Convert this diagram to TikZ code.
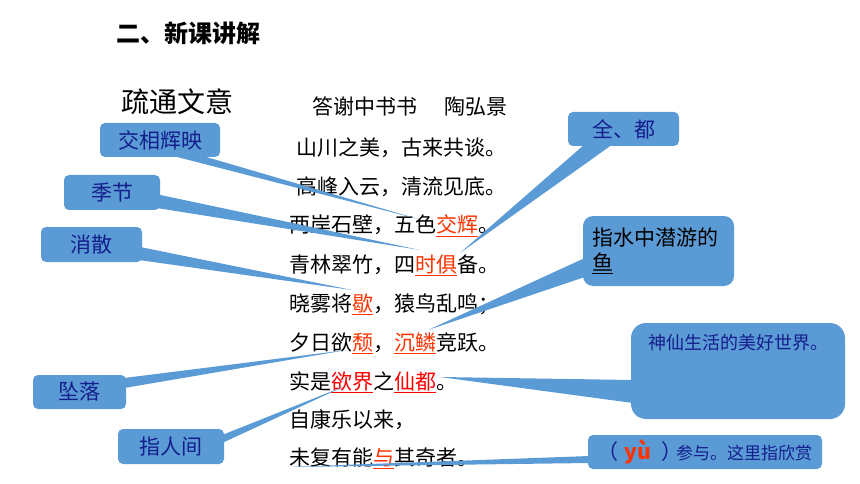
\documentclass[tikz,border=0pt]{standalone}
\usepackage{fontspec}
\setmainfont{Noto Sans CJK SC}
\usetikzlibrary{calc}
\definecolor{callblue}{RGB}{91,155,213}
\definecolor{navy}{RGB}{20,30,140}
\definecolor{hlred}{RGB}{255,51,0}
\newcommand{\hl}[1]{\textcolor{hlred}{\underline{#1}}}
\newcommand{\hr}[1]{\textcolor{red}{\underline{#1}}}

\begin{document}
\begin{tikzpicture}[x=1pt,y=-1pt,
    line/.style={anchor=base west,inner sep=0,font=\fontsize{21}{24}\selectfont},
    box/.style={fill=callblue,rounded corners=5pt,inner sep=0,text=navy,font=\fontsize{21}{25}\selectfont},
    wedge/.style={fill=callblue}]
    \useasboundingbox (0,0) rectangle (860,484);
    % headings
    \node[anchor=west,inner sep=0,font=\fontsize{24}{28}\selectfont\bfseries] (tt) at (116,33) {二、新课讲解};
    \node[anchor=west,inner sep=0,font=\fontsize{28}{30}\selectfont] (st) at (121,102) {疏通文意};
    % the text
    \node[line] (t0) at (312,115) {答谢中书书\hspace{27pt}陶弘景};
    \node[line] (l1) at (296,156) {山川之美，古来共谈。};
    \node[line] (l2) at (296,194) {高峰入云，清流见底。};
    \node[line] (l3) at (289,233) {两岸石壁，五色\hl{交辉}。};
    \node[line] (l4) at (289,272) {青林翠竹，四\hl{时俱}备。};
    \node[line] (l5) at (289,311) {晓雾将\hl{歇}，猿鸟乱鸣；};
    \node[line] (l6) at (289,350) {夕日欲\hl{颓}，\hl{沉鳞}竞跃。};
    \node[line] (l7) at (289,389) {实是\hr{欲界}之\hr{仙都}。};
    \node[line] (l8) at (289,427) {自康乐以来，};
    \node[line] (l9) at (289,465) {未复有能\hl{与}其奇者。};
    % pointer tips
    \coordinate (tjx) at (418,219);
    \coordinate (tjj) at (420,250);
    \coordinate (txs) at (352,290);
    \coordinate (tzl) at (347,350);
    \coordinate (tzr) at (345,386);
    \coordinate (tqd) at (460,253);
    \coordinate (tys) at (428,330);
    \coordinate (tsx) at (440,377);
    \coordinate (tyu) at (287,467);
    % callouts
    \node[box,minimum width=120pt,minimum height=34pt] (jx) at (160,140) {交相辉映};
    \node[box,minimum width=96pt,minimum height=35pt] (jj) at (112,192.5) {季节};
    \node[box,minimum width=101pt,minimum height=35pt] (xs) at (91.5,244.5) {消散};
    \node[box,minimum width=93pt,minimum height=34pt] (zl) at (79.5,392) {坠落};
    \node[box,minimum width=106pt,minimum height=35pt] (zr) at (171,446.5) {指人间};
    \node[box,minimum width=111pt,minimum height=34pt] (qd) at (623.5,129) {全、都};
    \node[box,text=black,rounded corners=10pt,minimum width=151pt,minimum height=70pt,text width=133pt,align=left] (ys) at (658.5,251) {指水中潜游的\\\underline{鱼}};
    \node[box,rounded corners=15pt,minimum width=214pt,font=\fontsize{18}{20}\selectfont,text height=26.5pt,text depth=69.5pt] (sx) at (738,371) {神仙生活的美好世界。};
    \node[box,minimum width=234pt,minimum height=34pt] (yu) at (705,452) {（\hspace{6pt}\textcolor{hlred}{\bfseries yù}\hspace{10pt}）\hspace{-6pt}{\fontsize{17}{20}\selectfont 参与。这里指欣赏}};
    % pointers
    \fill[wedge] ($(jx.south east)+(-50,-2)$) -- (tjx) -- ($(jx.south east)+(-20,-2)$) -- cycle;
    \fill[wedge] ($(jj.east)+(-2,2)$) -- (tjj) -- ($(jj.south east)+(-2,-2)$) -- cycle;
    \fill[wedge] ($(xs.east)+(-2,2.5)$) -- (txs) -- ($(xs.south east)+(-2,-2)$) -- cycle;
    \fill[wedge] ($(zl.east)+(-2,-14)$) -- (tzl) -- ($(zl.east)+(-2,-4)$) -- cycle;
    \fill[wedge] ($(zr.east)+(-2,-11.5)$) -- (tzr) -- ($(zr.east)+(-2,-3.5)$) -- cycle;
    \fill[wedge] ($(qd.south west)+(17,-2)$) -- (tqd) -- ($(qd.south west)+(45,-2)$) -- cycle;
    \fill[wedge] ($(ys.west)+(2,7)$) -- (tys) -- ($(ys.west)+(2,26)$) -- cycle;
    \fill[wedge] ($(sx.west)+(2,9)$) -- (tsx) -- ($(sx.west)+(2,32)$) -- cycle;
    \fill[wedge] ($(yu.west)+(2,4)$) -- (tyu) -- ($(yu.west)+(2,11)$) -- cycle;
\end{tikzpicture}
\end{document}
